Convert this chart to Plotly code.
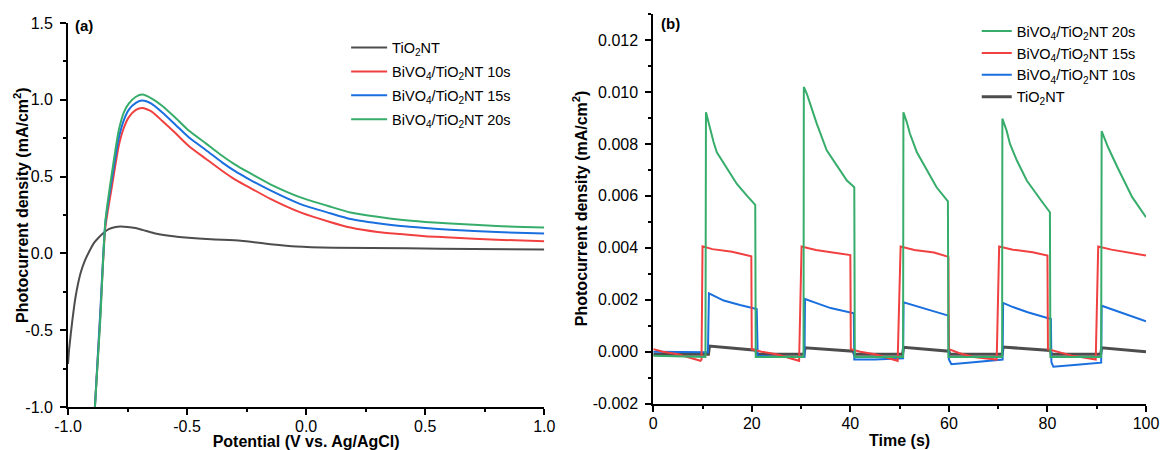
import plotly.graph_objects as go

# ---------------- Panel (a): LSV data ----------------
v_tio2 = [-1.0, -0.995, -0.982, -0.969, -0.948, -0.93, -0.913, -0.89, -0.871, -0.85,
          -0.829, -0.80, -0.78, -0.75, -0.717, -0.675, -0.633, -0.549, -0.507, -0.4,
          -0.274, -0.15, -0.041, 0.115, 0.425, 0.7, 1.0]
j_tio2 = [-0.72, -0.62, -0.44, -0.29, -0.133, -0.05, 0.006, 0.07, 0.104, 0.135,
          0.158, 0.172, 0.175, 0.172, 0.165, 0.148, 0.13, 0.11, 0.104, 0.092,
          0.082, 0.06, 0.045, 0.037, 0.033, 0.028, 0.025]

v_bivo4 = [-0.887, -0.865, -0.843, -0.814, -0.787, -0.765, -0.745, -0.715, -0.688, -0.65,
           -0.605, -0.55, -0.493, -0.42, -0.353, -0.3, -0.241, -0.15, -0.024, 0.1,
           0.186, 0.3, 0.396, 0.5, 0.606, 0.8, 1.0]
j_10s = [-1.0, -0.42, 0.17, 0.45, 0.70, 0.82, 0.886, 0.935, 0.947, 0.925,
         0.864, 0.785, 0.70, 0.615, 0.538, 0.482, 0.432, 0.355, 0.267, 0.205,
         0.169, 0.14, 0.126, 0.112, 0.104, 0.089, 0.08]
j_15s = [-1.0, -0.40, 0.20, 0.50, 0.75, 0.87, 0.935, 0.98, 0.995, 0.975,
         0.919, 0.84, 0.756, 0.672, 0.593, 0.537, 0.484, 0.41, 0.321, 0.262,
         0.224, 0.196, 0.178, 0.165, 0.154, 0.139, 0.13]
j_20s = [-1.0, -0.45, 0.21, 0.54, 0.80, 0.92, 0.975, 1.02, 1.034, 1.01,
         0.962, 0.885, 0.80, 0.715, 0.636, 0.58, 0.527, 0.45, 0.365, 0.305,
         0.267, 0.238, 0.219, 0.205, 0.195, 0.178, 0.168]

# ---------------- Panel (b): chopped-light transient data ----------------
t_20s = [0, 10.6, 10.7, 11.56, 12.24, 12.9, 14.95, 16.97, 19.0, 20.7, 20.8,
         30.5, 30.56, 31.17, 31.85, 33.2, 35.2, 37.26, 39.3, 40.8, 40.9,
         50.7, 50.77, 51.45, 52.1, 53.5, 55.5, 57.5, 59.8, 59.9,
         70.8, 70.85, 71.7, 72.4, 73.8, 75.8, 78.5, 80.5, 80.6,
         90.9, 91.0, 92.3, 94.2, 97.2, 100]
i_20s = [-0.00015, -0.0002, 0.00922, 0.00852, 0.00807, 0.00768, 0.00704, 0.00646, 0.00601, 0.00565, -0.0002,
         -0.0002, 0.01019, 0.00993, 0.00954, 0.00877, 0.00775, 0.00717, 0.00659, 0.00633, -0.0002,
         -0.0002, 0.00922, 0.00884, 0.00839, 0.00768, 0.00698, 0.00633, 0.00579, -0.0002,
         -0.0002, 0.00897, 0.00852, 0.0080, 0.00736, 0.00659, 0.00588, 0.00537, -0.0002,
         -0.0002, 0.00849, 0.00787, 0.0071, 0.00595, 0.00518]

t_15s = [0, 2, 5, 8, 9.6, 9.8, 10.0, 12, 16, 19.9, 20.0, 22, 25, 29.6,
         30.1, 33, 37, 40.0, 40.1, 42, 45, 49.6,
         50.2, 53, 57, 59.9, 60.0, 62, 65, 69.7,
         70.2, 73, 77, 80.0, 80.1, 82, 85, 89.8,
         90.3, 93, 97, 100]
i_15s = [0.0001, 0.0, -0.0001, -0.00025, -0.00035, -0.0003, 0.00406, 0.00395, 0.00385, 0.00367, 0.0001, 0.0, -0.0001, -0.00035,
         0.00405, 0.00392, 0.00382, 0.00372, 0.0001, 0.0, -0.0001, -0.00035,
         0.00405, 0.00392, 0.00382, 0.00365, 0.0001, -0.00005, -0.0002, -0.0003,
         0.00405, 0.00393, 0.00383, 0.0037, 0.0001, 0.0, -0.00015, -0.0003,
         0.00405, 0.00393, 0.0038, 0.0037]

t_10s = [0, 11.1, 11.3, 12.5, 14.3, 17.6, 21.0, 21.2, 25, 30.7,
         30.8, 33, 36, 40.7, 40.8, 45, 50.7,
         50.8, 53, 56, 59.9, 60.0, 60.5, 65, 70.9,
         71.0, 73, 76, 80.7, 80.8, 81.2, 86, 90.9,
         91.0, 93, 96, 100]
i_10s = [0.0, -0.00002, 0.00225, 0.00215, 0.00197, 0.0018, 0.00164, -0.00015, -0.0002, -0.0002,
         0.00203, 0.00188, 0.00168, 0.00148, -0.0003, -0.0003, -0.00025,
         0.0019, 0.00178, 0.0016, 0.00139, -0.0003, -0.00048, -0.0004, -0.0003,
         0.00188, 0.00172, 0.00152, 0.00126, -0.0004, -0.00058, -0.0005, -0.00042,
         0.00177, 0.00163, 0.00142, 0.00117]

t_tio2 = [0, 11.2, 11.4, 20.8, 21.0, 30.6, 30.8, 40.6, 40.8, 50.6, 50.8, 60.0, 60.2,
          70.8, 71.0, 80.6, 80.8, 90.8, 91.0, 100]
i_tio2 = [-0.0001, -0.0001, 0.00022, 0.00006, -0.0001, -0.0001, 0.00015, 0.00002, -0.0001, -0.0001,
          0.00017, 0.00002, -0.0001, -0.0001, 0.00018, 0.00005, -0.0001, -0.0001, 0.00015, 0.0]

# ---------------- labels / ticks ----------------
series_names = ["TiO<sub>2</sub>NT", "BiVO<sub>4</sub>/TiO<sub>2</sub>NT 10s",
                "BiVO<sub>4</sub>/TiO<sub>2</sub>NT 15s", "BiVO<sub>4</sub>/TiO<sub>2</sub>NT 20s"]
xa_tickvals = [-1.0, -0.5, 0.0, 0.5, 1.0]
xa_ticktext = ["-1.0", "-0.5", "0.0", "0.5", "1.0"]
ya_tickvals = [-1.0, -0.5, 0.0, 0.5, 1.0, 1.5]
ya_ticktext = ["-1.0", "-0.5", "0.0", "0.5", "1.0", "1.5"]
yb_tickvals = [-0.002, 0.0, 0.002, 0.004, 0.006, 0.008, 0.010, 0.012]
yb_ticktext = ["-0.002", "0.000", "0.002", "0.004", "0.006", "0.008", "0.010", "0.012"]
xa_title = "<b>Potential (V vs. Ag/AgCl)</b>"
xb_title = "<b>Time (s)</b>"
y_title = "<b>Photocurrent density (mA/cm<sup>2</sup>)</b>"

C_GRAY = "#4d4d4d"
C_RED = "#F14040"
C_BLUE = "#1A6FDF"
C_GREEN = "#37AD6B"

FONT = "Liberation Sans, Arial, sans-serif"

fig = go.Figure()

# Panel (a)
for k, (x, y, name, c) in enumerate([(v_tio2, j_tio2, series_names[0], C_GRAY),
                                      (v_bivo4, j_10s, series_names[1], C_RED),
                                      (v_bivo4, j_15s, series_names[2], C_BLUE),
                                      (v_bivo4, j_20s, series_names[3], C_GREEN)]):
    fig.add_trace(go.Scatter(x=x, y=y, name=name, mode="lines", legendgroup=f"a{k}",
                             line=dict(color=c, width=2, shape="spline", smoothing=0.6),
                             xaxis="x", yaxis="y", legend="legend"))

# Panel (b)
for x, y, name, c, w in [(t_tio2, i_tio2, series_names[0], C_GRAY, 3),
                         (t_10s, i_10s, series_names[1], C_BLUE, 2),
                         (t_15s, i_15s, series_names[2], C_RED, 2),
                         (t_20s, i_20s, series_names[3], C_GREEN, 2)]:
    fig.add_trace(go.Scatter(x=x, y=y, name=name, mode="lines",
                             line=dict(color=c, width=w),
                             xaxis="x2", yaxis="y2", legend="legend2"))

minor_common = dict(ticks="outside", ticklen=3, tickwidth=1.5, tickcolor="black")
axis_common = dict(
    showgrid=False, zeroline=False, showline=True, linecolor="black", linewidth=1.8,
    ticks="outside", ticklen=6, tickwidth=1.5, tickcolor="black",
    tickfont=dict(family=FONT, size=16, color="black"),
    mirror=False,
)
title_font = dict(family=FONT, size=16, color="black")

fig.update_layout(
    width=1161, height=450,
    margin=dict(l=68, r=15, t=14, b=43, autoexpand=False),
    paper_bgcolor="white", plot_bgcolor="white",
    font=dict(family=FONT, color="black"),
    xaxis=dict(axis_common, domain=[0, 0.4418], range=[-1, 1],
               tickmode="array", tickvals=xa_tickvals, ticktext=xa_ticktext,
               minor=dict(minor_common, tickmode="linear", tick0=-1, dtick=0.25),
               ticklabelstandoff=-2, anchor="y",
               title=dict(text=xa_title, font=title_font, standoff=4)),
    yaxis=dict(axis_common, domain=[0, 0.977], range=[-1, 1.5],
               tickmode="array", tickvals=ya_tickvals, ticktext=ya_ticktext,
               minor=dict(minor_common, tickmode="linear", tick0=-1, dtick=0.25),
               ticklabelstandoff=4, anchor="x"),
    xaxis2=dict(axis_common, domain=[0.5429, 1], range=[0, 100], dtick=20, tick0=0,
                minor=dict(minor_common, dtick=10, tick0=0),
                ticklabelstandoff=-2, anchor="y2",
                title=dict(text=xb_title, font=title_font, standoff=4)),
    yaxis2=dict(axis_common, domain=[0.0084, 1], range=[-0.002, 0.013],
                tickmode="array", tickvals=yb_tickvals, ticktext=yb_ticktext,
                minor=dict(minor_common, tickmode="linear", tick0=0, dtick=0.001),
                ticklabelstandoff=4, anchor="x2"),
    legend=dict(x=0.258, y=0.955, xanchor="left", yanchor="top",
                font=dict(family=FONT, size=14.5, color="black"),
                bgcolor="rgba(0,0,0,0)", traceorder="grouped", tracegroupgap=2,
                itemwidth=36),
    legend2=dict(x=0.843, y=0.997, xanchor="left", yanchor="top",
                 font=dict(family=FONT, size=14.5, color="black"),
                 bgcolor="rgba(0,0,0,0)", traceorder="reversed", itemwidth=30),
    annotations=[
        dict(text="<b>(a)</b>", xref="paper", yref="paper", x=0.005, y=0.97,
             xanchor="left", yanchor="middle", showarrow=False,
             font=dict(family=FONT, size=15, color="black")),
        dict(text="<b>(b)</b>", xref="paper", yref="paper", x=0.5485, y=0.975,
             xanchor="left", yanchor="middle", showarrow=False,
             font=dict(family=FONT, size=15, color="black")),
        dict(text=y_title, xref="paper", yref="paper", x=-0.0436, y=0.514,
             xanchor="center", yanchor="middle", textangle=-90, showarrow=False,
             font=title_font),
        dict(text=y_title, xref="paper", yref="paper", x=0.475, y=0.506,
             xanchor="center", yanchor="middle", textangle=-90, showarrow=False,
             font=title_font),
    ],
)

fig.write_html("out.html", config={"displayModeBar": False},
               post_script="document.body.style.margin='0px';document.body.style.overflow='hidden';")
